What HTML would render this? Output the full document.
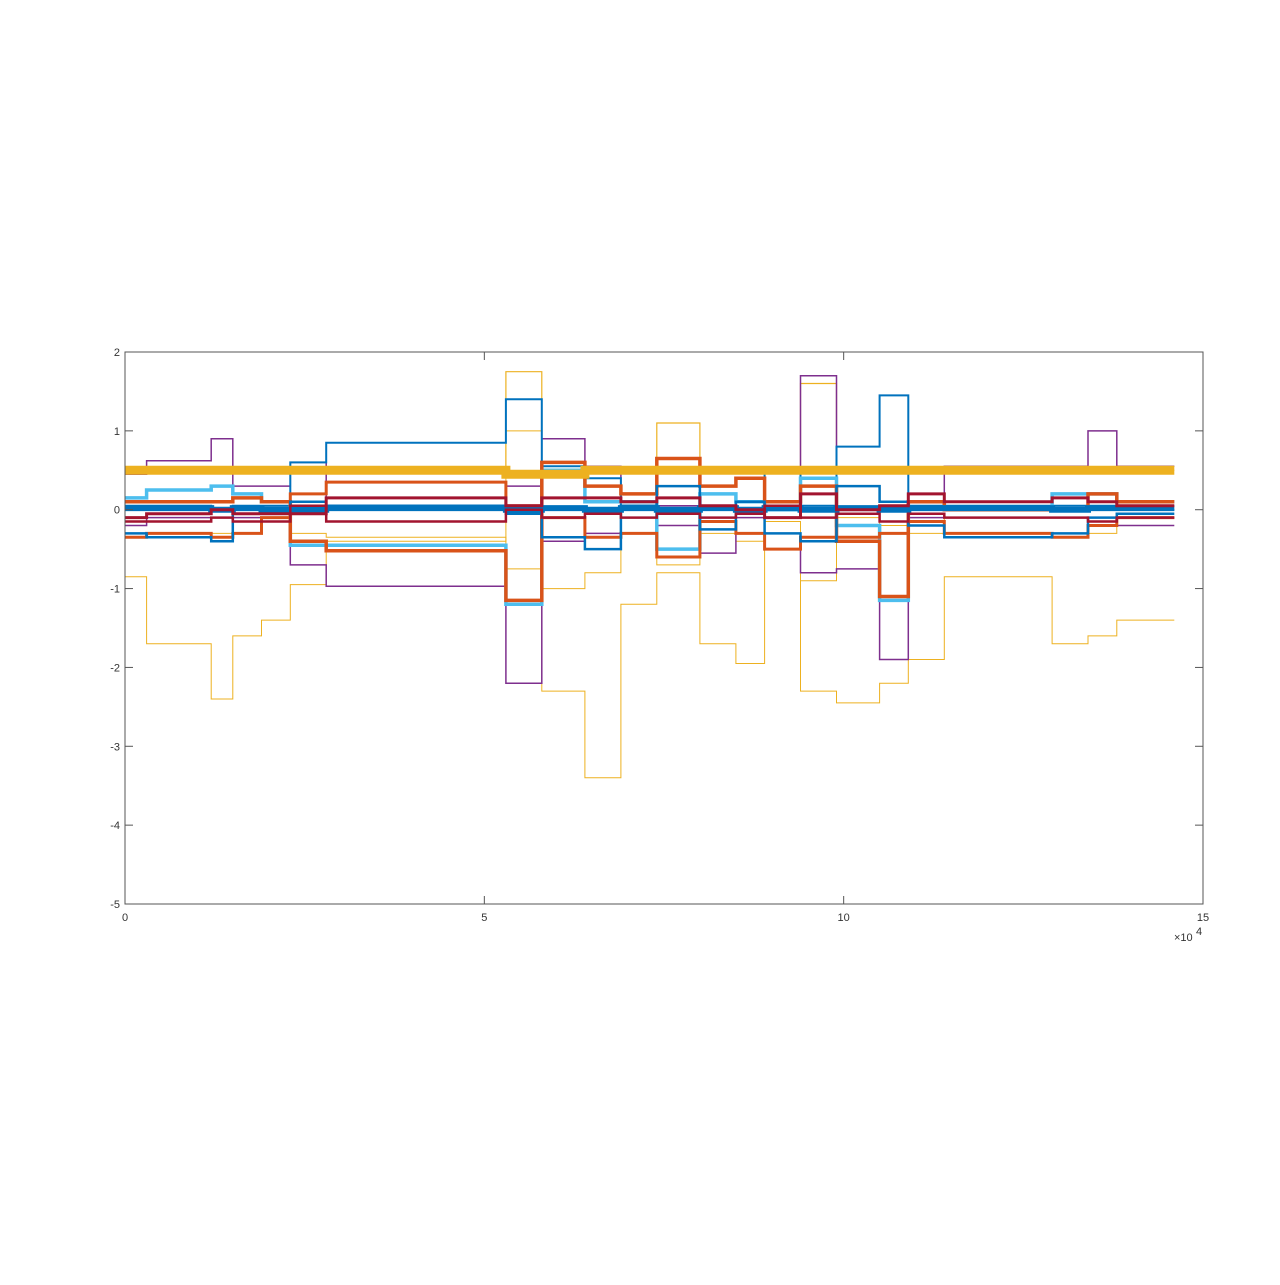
<!DOCTYPE html>
<html><head><meta charset="utf-8"><style>
html,body{margin:0;background:#fff;}
svg text{font-family:"Liberation Sans",sans-serif;font-size:11px;fill:#333;}
</style></head><body>
<svg id="chart" width="1280" height="1280" viewBox="0 0 1280 1280" xmlns="http://www.w3.org/2000/svg">
<rect x="0" y="0" width="1280" height="1280" fill="#fff"/>
<g id="series"></g>
<g id="axes"></g>
</svg>
<script>
// segment breakpoints (x in units of 1e4)
const breaks = [0,0.3,1.2,1.5,1.9,2.3,2.8,5.3,5.8,6.4,6.9,7.4,8.0,8.5,8.9,9.4,9.9,10.5,10.9,11.4,12.9,13.4,13.8,14.6];
const yellowBand = [0.5,0.5,0.5,0.5,0.5,0.5,0.5,0.45,0.45,0.5,0.5,0.5,0.5,0.5,0.5,0.5,0.5,0.5,0.5,0.5,0.5,0.5,0.5];
const yellowHigh = [0.5,0.5,0.5,0.5,0.5,0.5,0.5,1.75,0.45,0.5,0.5,1.1,0.5,0.5,0.5,1.6,0.5,0.5,0.5,0.5,0.5,0.5,0.5];
const yellowLow = [-0.85,-1.7,-2.4,-1.6,-1.4,-0.95,-0.4,1.0,-2.3,-3.4,-1.2,-0.8,-1.7,-1.95,-0.3,-2.3,-2.45,-2.2,-1.9,-0.85,-1.7,-1.6,-1.4];
const yellowMid = [-0.3,-0.35,-0.3,-0.15,-0.1,-0.3,-0.35,-0.75,-1.0,-0.8,-0.1,-0.7,-0.3,-0.4,-0.15,-0.9,-0.1,-0.2,-0.3,-0.1,-0.1,-0.3,-0.1];
const purpleUp = [0.45,0.62,0.9,0.3,0.3,0.6,0.15,0.3,0.9,0.55,0.1,0.05,0.05,0.1,0.05,1.7,0.0,0.0,0.1,0.55,0.55,1.0,0.55];
const purpleLow = [-0.2,-0.1,-0.1,-0.1,-0.1,-0.7,-0.97,-2.2,-0.4,-0.3,-0.1,-0.2,-0.55,-0.1,-0.3,-0.8,-0.75,-1.9,-0.1,-0.1,-0.1,-0.1,-0.2];
const blueTop = [0.05,0.05,0.0,0.05,0.05,0.6,0.85,1.4,0.55,0.4,0.05,0.5,0.05,0.1,0.5,0.05,0.8,1.45,0.05,0.05,0.05,0.05,0.0];
const blueLow = [-0.3,-0.35,-0.4,-0.05,-0.05,0.1,0.05,-0.05,-0.35,-0.5,0.05,0.3,-0.25,0.1,-0.3,-0.4,0.3,0.1,-0.2,-0.35,-0.3,-0.1,-0.05];
const orange = [0.1,0.1,0.1,0.15,0.1,-0.4,-0.52,-1.15,0.6,0.3,0.2,0.65,0.3,0.4,0.1,0.3,-0.4,-1.1,0.1,0.0,0.0,0.2,0.1];
const orangeLow = [-0.35,-0.3,-0.35,-0.3,-0.1,0.2,0.35,0.05,-0.1,-0.35,-0.3,-0.6,-0.15,-0.3,-0.5,-0.35,-0.35,-0.3,-0.15,-0.3,-0.35,-0.2,-0.1];
const cyan = [0.15,0.25,0.3,0.2,0.1,-0.45,-0.45,-1.2,0.5,0.1,0.1,-0.5,0.2,0.1,0.0,0.4,-0.2,-1.15,0.1,0.0,0.2,0.2,0.1];
const darkRed = [-0.1,-0.05,0,-0.05,-0.05,-0.05,0.15,0.05,0.15,0.15,0.1,0.15,0.05,0.0,-0.1,0.2,0.0,0.05,0.2,0.1,0.15,0.1,0.05];
const darkRed2 = [-0.15,-0.15,-0.1,-0.15,-0.15,0.05,-0.15,0.0,-0.1,-0.05,-0.1,-0.05,-0.1,-0.05,0.05,-0.1,-0.05,-0.15,-0.05,-0.1,-0.1,-0.15,-0.1];
const blueMid = [0.02,0.02,0.0,0.02,0.0,0.0,0.02,0.0,0.02,0.0,0.02,0.0,0.02,0.0,0.02,0.0,0.02,0.0,0.02,0.02,0.0,0.02,0.02];
const yTicks = [2,1,0,-1,-2,-3,-4,-5];
const xTicks = [0,5,10,15];

const X0=125,X1=1203,Y0=352,Y1=904;
const xs = v => X0 + (v/15)*(X1-X0);
const ys = v => Y1 - ((v+5)/7)*(Y1-Y0);
const NS="http://www.w3.org/2000/svg";
const sg=document.getElementById('series');
function drawStep(vals,color,w,name){
  let d='';
  for(let i=0;i<vals.length;i++){
    const xa=xs(breaks[i]), xb=xs(breaks[i+1]), y=ys(vals[i]);
    d += (i===0?'M':'L')+xa.toFixed(1)+','+y.toFixed(1)+' L'+xb.toFixed(1)+','+y.toFixed(1)+' ';
  }
  const p=document.createElementNS(NS,'path');
  p.setAttribute('d',d);p.setAttribute('fill','none');p.setAttribute('stroke',color);
  p.setAttribute('stroke-width',w);p.setAttribute('stroke-linejoin','miter');
  
  
  sg.appendChild(p);
}
drawStep(yellowLow,'#EDB120',1,'series-yellow-low');
drawStep(yellowMid,'#EDB120',1,'series-yellow-mid');
drawStep(yellowHigh,'#EDB120',1.2,'series-yellow-high');
drawStep(purpleLow,'#7E2F8E',1.5,'series-purple-low');
drawStep(purpleUp,'#7E2F8E',1.5,'series-purple-up');
drawStep(blueTop,'#0072BD',2,'series-blue-top');
drawStep(cyan,'#4DBEEE',3.5,'series-cyan');
drawStep(orange,'#D95319',3.5,'series-orange');
drawStep(orangeLow,'#D95319',3,'series-orange-low');
drawStep(blueLow,'#0072BD',2.5,'series-blue-low');
drawStep(blueMid,'#0072BD',6,'series-blue-mid');
drawStep(darkRed,'#A2142F',3,'series-dark-red');
drawStep(darkRed2,'#A2142F',2.5,'series-dark-red-2');
drawStep(yellowBand,'#EDB120',9,'series-yellow-band');

const ag=document.getElementById('axes');
function el(tag,attrs,name,text){
  const e=document.createElementNS(NS,tag);
  for(const k in attrs)e.setAttribute(k,attrs[k]);
  
  
  if(text!==undefined)e.textContent=text;
  ag.appendChild(e);return e;
}
el('rect',{x:X0,y:Y0,width:X1-X0,height:Y1-Y0,fill:'none',stroke:'#555','stroke-width':1},'plot-frame');
yTicks.forEach(v=>{
  const y=ys(v);
  el('line',{x1:X0,y1:y,x2:X0+8,y2:y,stroke:'#555'},'y-tick');
  el('line',{x1:X1,y1:y,x2:X1-8,y2:y,stroke:'#555'},'y-tick-right');
  el('text',{x:X0-5,y:y+4,'text-anchor':'end'},'y-tick-label',String(v));
});
xTicks.forEach(v=>{
  const x=xs(v);
  el('line',{x1:x,y1:Y1,x2:x,y2:Y1-8,stroke:'#555'},'x-tick');
  el('line',{x1:x,y1:Y0,x2:x,y2:Y0+8,stroke:'#555'},'x-tick-top');
  el('text',{x:x,y:Y1+17,'text-anchor':'middle'},'x-tick-label',String(v));
});
el('text',{x:1174,y:941,'font-size':'10'},'x-exponent-label','×10');
el('text',{x:1196,y:935,'font-size':'8'},'x-exponent-power','4');
</script>
</body></html>
